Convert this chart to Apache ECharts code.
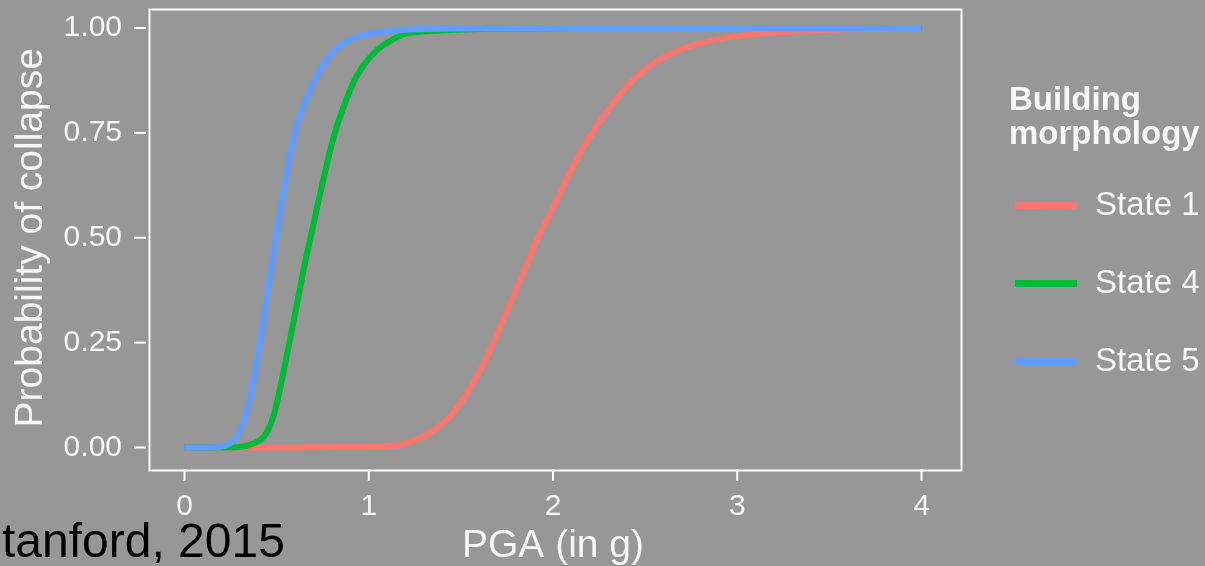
<!DOCTYPE html>
<html>
<head>
<meta charset="utf-8">
<script src="https://cdn.jsdelivr.net/npm/echarts@6/dist/echarts.min.js"></script>
<style>
  html, body { margin: 0; padding: 0; background: #979797; }
  #chart { width: 1205px; height: 566px; }
</style>
</head>
<body>
<div id="chart"></div>
<script>
// values
const seriesNames = ['State 1', 'State 4', 'State 5']
const seriesColors = ['#F8766D', '#00BA38', '#619CFF']

const state1Pga = [0, 0.5, 0.9, 1.061, 1.17, 1.278, 1.369, 1.441, 1.504, 1.567, 1.622, 1.676, 1.73, 1.785, 1.839, 1.902, 1.947, 2.002, 2.074, 2.147, 2.237, 2.327, 2.436, 2.563, 2.69, 2.87, 3.051, 3.232, 3.5, 3.8, 4.0]
const state1Prob = [0, 0, 0.001, 0.002, 0.006, 0.022, 0.046, 0.073, 0.109, 0.153, 0.197, 0.248, 0.304, 0.359, 0.415, 0.482, 0.525, 0.572, 0.638, 0.701, 0.765, 0.82, 0.876, 0.92, 0.948, 0.971, 0.983, 0.99, 0.996, 0.999, 1.0]

const state4Pga = [0, 0.2, 0.3, 0.377, 0.431, 0.477, 0.513, 0.54, 0.567, 0.594, 0.621, 0.649, 0.694, 0.721, 0.757, 0.793, 0.83, 0.884, 0.938, 1.01, 1.083, 1.206, 1.387, 1.7, 2.5, 4.0]
const state4Prob = [0, 0, 0.001, 0.01, 0.026, 0.066, 0.129, 0.185, 0.245, 0.305, 0.365, 0.43, 0.52, 0.575, 0.645, 0.712, 0.77, 0.836, 0.888, 0.932, 0.96, 0.987, 0.994, 0.999, 1.0, 1.0]

const state5Pga = [0, 0.1, 0.19, 0.232, 0.287, 0.332, 0.359, 0.386, 0.414, 0.441, 0.468, 0.504, 0.54, 0.576, 0.621, 0.676, 0.73, 0.793, 0.866, 0.956, 1.083, 1.25, 1.5, 2.0, 3.0, 4.0]
const state5Prob = [0, 0, 0.001, 0.006, 0.026, 0.073, 0.121, 0.185, 0.256, 0.336, 0.415, 0.515, 0.61, 0.701, 0.781, 0.844, 0.892, 0.936, 0.963, 0.981, 0.991, 0.997, 0.999, 1.0, 1.0, 1.0]

const xTicks = [0, 1, 2, 3, 4]
const yTicks = [0, 0.25, 0.5, 0.75, 1]

const font = 'Liberation Sans'
const txt = '#f7f7f7'

// panel box (ggplot style, data range plus 5% on each side)
const panel = { left: 147, top: 7, width: 812, height: 461 }
const tickLen = 12

function pairs(xs, ys) {
	return xs.map((x, i) => [x, ys[i]])
}
const allData = [pairs(state1Pga, state1Prob), pairs(state4Pga, state4Prob), pairs(state5Pga, state5Prob)]

const chart = echarts.init(document.getElementById('chart'))
const option = {
	backgroundColor: '#979797',
	animation: false,
	// grid covers the data range 0..4 / 0..1, the panel box is drawn around it
	grid: {
		left: 184.5, top: 28, width: 737, height: 419.5,
		outerBoundsMode: 'none'
	},
	xAxis: {
		type: 'value', min: 0, max: 4, interval: 1,
		offset: 20.5,
		name: 'PGA (in g)', nameLocation: 'middle', nameGap: 51,
		nameTextStyle: { color: txt, fontSize: 39, fontFamily: font },
		axisLine: { show: false, onZero: false },
		splitLine: { show: false },
		axisTick: { show: false },
		axisLabel: { margin: 24, color: txt, fontSize: 30, fontFamily: font }
	},
	yAxis: {
		type: 'value', min: 0, max: 1, interval: 0.25,
		offset: 36.5,
		name: 'Probability of collapse', nameLocation: 'middle', nameGap: 97,
		nameTextStyle: { color: txt, fontSize: 39, fontFamily: font },
		axisLine: { show: false, onZero: false },
		splitLine: { show: false },
		axisTick: { show: false },
		axisLabel: { margin: 26, color: txt, fontSize: 30, fontFamily: font,
			formatter: v => v.toFixed(2) }
	},
	legend: {
		orient: 'vertical', left: 1010, top: 184,
		itemWidth: 62, itemHeight: 7, itemGap: 45,
		icon: 'rect',
		data: seriesNames,
		textStyle: { color: txt, fontSize: 33, fontFamily: font, lineHeight: 32, padding: [0, 0, 0, 13] }
	},
	series: seriesNames.map((name, i) => ({
		name: name,
		type: 'line',
		data: allData[i],
		showSymbol: false,
		clip: false,
		smooth: 0.25,
		color: seriesColors[i],
		lineStyle: { width: 6, color: seriesColors[i], join: 'round' }
	}))
}
chart.setOption(option)

// panel border, outside ticks placed through the chart's own scales, and extra texts
const tickStyle = { stroke: '#fff', lineWidth: 2 }
const bottom = panel.top + panel.height
const graphics = [
	{
		type: 'rect', left: panel.left, top: panel.top, z: 0,
		shape: { width: panel.width, height: panel.height },
		style: { fill: 'none', stroke: '#fff', lineWidth: 2 }
	},
	{
		type: 'text', left: 1009, top: 84,
		style: { text: 'Building\nmorphology', fill: txt, font: 'bold 33px "Liberation Sans"', lineHeight: 34 }
	},
	{
		type: 'text', left: 2, top: 520,
		style: { text: 'tanford, 2015', fill: '#000', font: '48px "Liberation Sans"' }
	}
]
xTicks.forEach(v => {
	const px = chart.convertToPixel({ gridIndex: 0 }, [v, 0])[0]
	graphics.push({ type: 'line', shape: { x1: px, y1: bottom + 1, x2: px, y2: bottom + 1 + tickLen }, style: tickStyle })
})
yTicks.forEach(v => {
	const py = chart.convertToPixel({ gridIndex: 0 }, [0, v])[1]
	graphics.push({ type: 'line', shape: { x1: panel.left - 1, y1: py, x2: panel.left - 1 - tickLen, y2: py }, style: tickStyle })
})
chart.setOption({ graphic: graphics })
</script>
</body>
</html>
